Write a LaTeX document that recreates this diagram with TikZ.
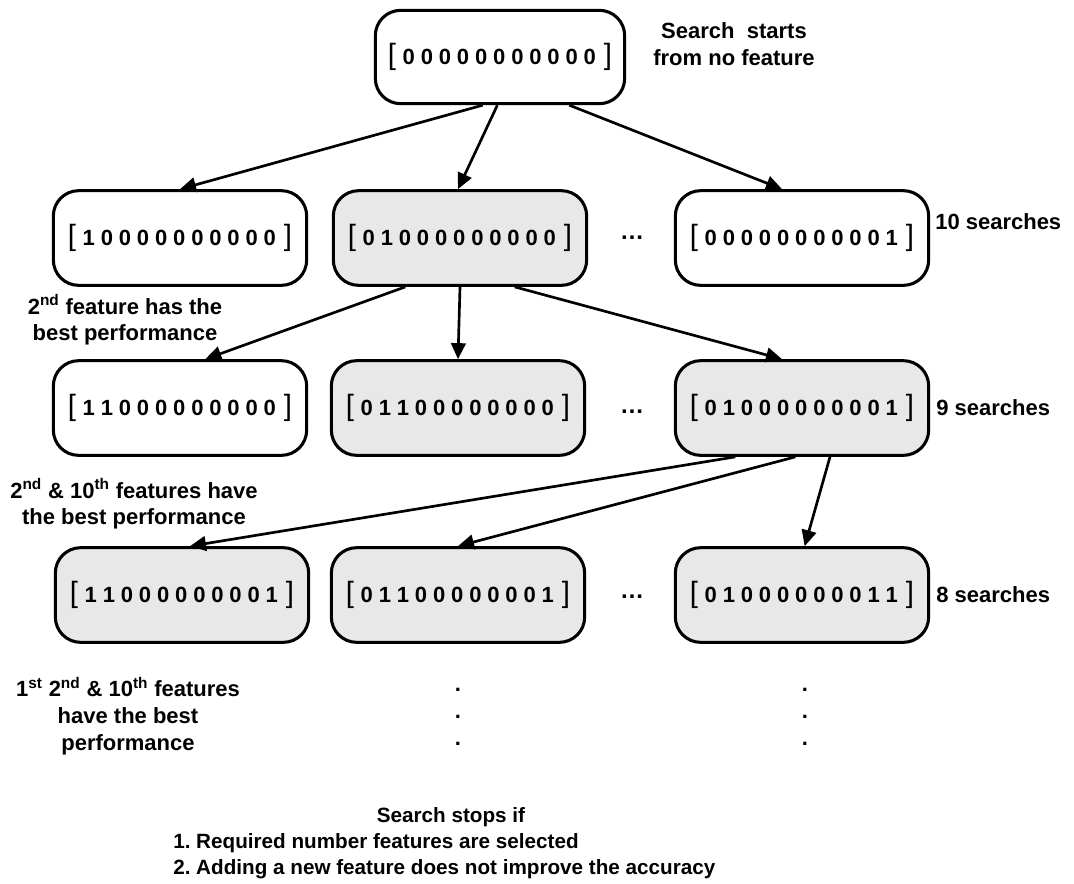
\documentclass[tikz,border=0pt]{standalone}
\usepackage{fontspec}
\setmainfont{Liberation Sans}
\usetikzlibrary{arrows.meta}
\frenchspacing

% bit vector: thin brackets around spaced bold digits
\newcommand\bitrow[1]{{\fontsize{22}{22}\selectfont[}\hspace{5pt}{\bfseries\fontsize{16.5}{16.5}\selectfont\spaceskip=4.4pt\relax #1}\hspace{6pt}{\fontsize{22}{22}\selectfont]}}

\tikzset{
  bitbox/.style={draw, line width=2.3pt, rounded corners=19pt, fill=white,
    minimum width=190pt, minimum height=71pt, inner sep=0pt},
  chosen/.style={bitbox, fill=black!9},
  arr/.style={line width=2pt, -{Triangle[length=12pt,width=11pt]}},
  lbl/.style={font=\bfseries\fontsize{16.5}{20}\selectfont, align=center, inner sep=0pt},
  foot/.style={font=\bfseries\fontsize{15.5}{19.5}\selectfont, align=center, inner sep=0pt},
  more/.style={font=\bfseries\fontsize{18}{20}\selectfont, inner sep=0pt},
}

\begin{document}
\begin{tikzpicture}[x=0.75pt,y=-0.75pt]
\useasboundingbox (0,0) rectangle (1074,883);

% level 0
\node[bitbox, minimum width=187pt, minimum height=70pt] (top) at (500,57) {\bitrow{0 0 0 0 0 0 0 0 0 0 0}};
\node[lbl] (l0) at (734,44) {Search\ \ starts\\from no feature};

% level 1
\node[bitbox] (a1) at (180,238) {\bitrow{1 0 0 0 0 0 0 0 0 0 0}};
\node[chosen] (b1) at (460,238) {\bitrow{0 1 0 0 0 0 0 0 0 0 0}};
\node[bitbox] (c1) at (802,238) {\bitrow{0 0 0 0 0 0 0 0 0 0 1}};
\node[more] (d1) at (632,238) {\dots};
\node[lbl, anchor=west] (n1) at (935,222) {10 searches};
\node[lbl] (t1) at (125,320) {2\textsuperscript{nd} feature has the\\best performance};

% level 2
\node[bitbox] (a2) at (180,408) {\bitrow{1 1 0 0 0 0 0 0 0 0 0}};
\node[chosen] (b2) at (458,408) {\bitrow{0 1 1 0 0 0 0 0 0 0 0}};
\node[chosen] (c2) at (802,408) {\bitrow{0 1 0 0 0 0 0 0 0 0 1}};
\node[more] (d2) at (632,412) {\dots};
\node[lbl, anchor=west] (n2) at (936,408) {9 searches};
\node[lbl] (t2) at (134,504) {2\textsuperscript{nd} \& 10\textsuperscript{th} features have\\the best performance};

% level 3
\node[chosen] (a3) at (182,595) {\bitrow{1 1 0 0 0 0 0 0 0 0 1}};
\node[chosen] (b3) at (458,595) {\bitrow{0 1 1 0 0 0 0 0 0 0 1}};
\node[chosen] (c3) at (802,595) {\bitrow{0 1 0 0 0 0 0 0 0 1 1}};
\node[more] (d3) at (632,597) {\dots};
\node[lbl, anchor=west] (n3) at (936,595) {8 searches};
\node[lbl] (t3) at (128,716) {1\textsuperscript{st} 2\textsuperscript{nd} \& 10\textsuperscript{th} features\\have the best\\performance};

% continuation dots
\node[lbl] (v1) at (458,717) {.\\.\\.};
\node[lbl] (v2) at (805,717) {.\\.\\.};

% stopping rule
\node[foot] (s0) at (451,817) {Search stops if};
\node[foot, anchor=west, align=left] (s1) at (173,856) {1. Required number features are selected\\2. Adding a new feature does not improve the accuracy};

% level 0 -> level 1
\draw[arr] ([xshift=-13pt]top.south) -- (a1.north);
\draw[arr] ([xshift=-2pt]top.south) -- ([xshift=-1.5pt]b1.north);
\draw[arr] ([xshift=52pt]top.south) -- ([xshift=-15pt]c1.north);

% level 1 -> level 2
\draw[arr] ([xshift=-41pt]b1.south) -- ([xshift=19pt]a2.north);
\draw[arr] ([xshift=0pt]b1.south) -- ([xshift=0pt]b2.north);
\draw[arr] ([xshift=41pt]b1.south) -- ([xshift=-15pt]c2.north);

% level 2 -> level 3
\draw[arr] ([xshift=-50pt]c2.south) -- ([xshift=6pt]a3.north);
\draw[arr] ([xshift=-5pt]c2.south) -- (b3.north);
\draw[arr] ([xshift=21pt]c2.south) -- ([xshift=2pt]c3.north);
\end{tikzpicture}
\end{document}
